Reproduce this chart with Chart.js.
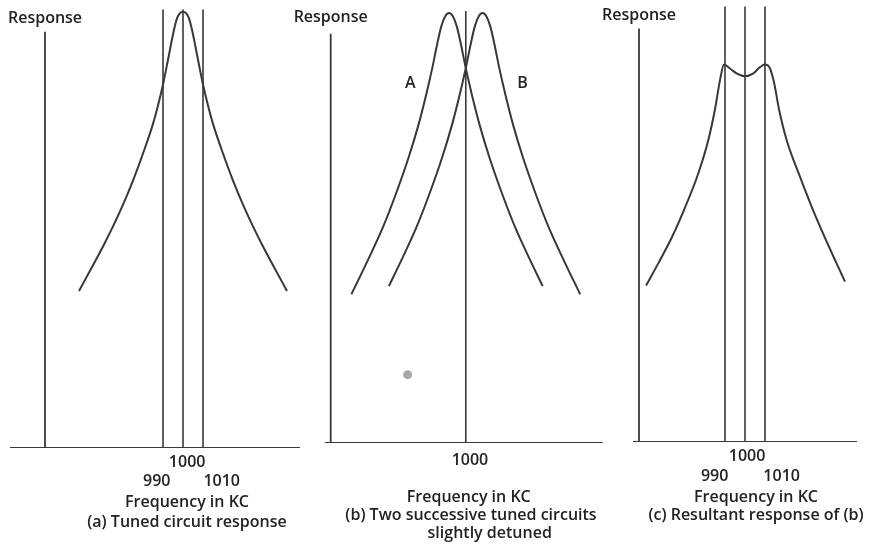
<!DOCTYPE html>
<html lang="en">
<head>
<meta charset="UTF-8">
<title>Tuned circuit response</title>
<script src="https://cdn.jsdelivr.net/npm/chart.js"></script>
<style>
  body { margin: 0; background: #fff; }
  #wrap { position: relative; width: 881px; height: 547px; overflow: hidden; }
  .panel { position: absolute; top: 0; }
</style>
</head>
<body>
<div id="wrap">
  <canvas id="chartA" class="panel" width="374" height="547" style="left:0px"></canvas>
  <canvas id="chartB" class="panel" width="342" height="547" style="left:290px"></canvas>
  <canvas id="chartC" class="panel" width="281" height="547" style="left:600px"></canvas>
</div>
<script>
// (a) single tuned circuit, frequency in kc / relative response
const freqA = [948, 955, 960, 965, 970, 975, 980, 985, 987.5, 990, 992.5, 995, 997, 1000,
               1003, 1005, 1007.5, 1010, 1012.5, 1015, 1020, 1025, 1030, 1035, 1040, 1045, 1052];
const respA = [36, 41.9, 46.2, 50.8, 55.8, 61.3, 67.5, 74.3, 78.5, 83.3, 89, 94.8, 98.5, 100,
               98.5, 94.8, 89, 83.3, 78.5, 74.3, 67.5, 61.3, 55.8, 50.8, 46.2, 41.9, 36];

// (b) curve A (tuned low) and curve B (tuned high)
const freqB1 = [942, 950, 958, 965, 971, 976, 980, 983, 985.5, 987.5, 989.5, 991.5,
                993.5, 995.5, 997.5, 1000, 1003, 1007, 1012, 1018, 1025, 1033, 1039];
const respB1 = [34.6, 42.2, 50.2, 58.5, 66.4, 74.0, 81.2, 87.2, 92.8, 96.8, 99.2, 100,
                99.2, 96.8, 92.8, 87.2, 81.2, 74.0, 66.4, 58.5, 50.2, 42.2, 36.5];
const freqB2 = [961, 967, 975, 982, 988, 993, 997, 1000, 1002.5, 1004.5, 1006.5, 1008.5,
                1010.5, 1012.5, 1014.5, 1017, 1020, 1024, 1029, 1035, 1042, 1050, 1058];
const respB2 = [36.5, 42.2, 50.2, 58.5, 66.4, 74.0, 81.2, 87.2, 92.8, 96.8, 99.2, 100,
                99.2, 96.8, 92.8, 87.2, 81.2, 74.0, 66.4, 58.5, 50.2, 42.2, 34.6];

// (c) resultant response
const freqC = [950.5, 956.5, 963.5, 970, 976.5, 981.5, 985, 987.5, 989.5, 992.5, 996, 1000,
               1004, 1007.5, 1010, 1012.5, 1014.5, 1017, 1021, 1027, 1033.5, 1040, 1045.5, 1050];
const respC = [36.1, 41.1, 47.3, 54.1, 61.8, 69.4, 76.8, 83.5, 87.1, 86.2, 85, 84.4,
               85, 86.5, 87.1, 86.2, 83, 76.8, 69.4, 61.8, 54.1, 47.1, 41.5, 37];

// marker lines and tick labels
const marksA = [990, 1000, 1010];
const marksB = [1000];
const marksC = [990, 1000, 1010];
const tickLabelsA = ['990', '1000', '1010'];
const tickLabelsB = ['1000'];
const tickLabelsC = ['990', '1000', '1010'];

const ink = '#383838';
const textColor = '#222';
const family = '"Open Sans", "DejaVu Sans", sans-serif';
const weight = '600';

// shift a label sideways by padding it with spaces
const mctx = document.createElement('canvas').getContext('2d');
function shiftText(text, px) {
  mctx.font = weight + ' 16px ' + family;
  const sp = mctx.measureText(' ').width;
  const pad = ' '.repeat(Math.round(Math.abs(px) * 2 / sp));
  return px < 0 ? text + pad : pad + text;
}

const pts = (xs, ys) => xs.map((x, i) => ({ x: x, y: ys[i] }));

function straight(data, w) {
  return { data: data, borderColor: ink, borderWidth: w, pointRadius: 0, tension: 0, fill: false };
}

function curve(data) {
  return { data: data, borderColor: ink, borderWidth: 2, pointRadius: 0,
           cubicInterpolationMode: 'monotone', fill: false };
}

function noteLayer(items) {
  return {
    id: 'notes',
    afterDatasetsDraw(chart) {
      const { ctx, scales } = chart;
      ctx.save();
      ctx.fillStyle = textColor;
      ctx.textAlign = 'center';
      ctx.textBaseline = 'middle';
      items.forEach(it => {
        ctx.font = weight + ' 16px ' + family;
        const px = scales.x.getPixelForValue(it.x);
        const py = it.py !== undefined ? it.py : scales.y.getPixelForValue(it.y);
        ctx.fillText(it.text, px, py);
      });
      ctx.restore();
    }
  };
}

function panel(id, p) {
  const datasets = [
    straight([{ x: p.base[0], y: 0 }, { x: p.base[1], y: 0 }], 1.8),
    straight([{ x: p.axisX, y: 0 }, { x: p.axisX, y: p.axisTop }], 1.8)
  ];
  p.marks.forEach(m => datasets.push(straight([{ x: m, y: 0 }, { x: m, y: 100.5 }], 1.6)));
  p.curves.forEach(c => datasets.push(curve(c)));
  if (p.extra) datasets.push(p.extra);

  new Chart(document.getElementById(id), {
    type: 'line',
    data: { datasets: datasets },
    options: {
      responsive: false,
      animation: false,
      events: [],
      layout: { padding: { top: p.padTop, bottom: p.padBottom, left: p.padLeft, right: 0 } },
      plugins: {
        legend: { display: false },
        tooltip: { enabled: false },
        title: {
          display: true,
          position: 'bottom',
          text: p.title,
          color: textColor,
          font: { family: family, size: 16, weight: weight, lineHeight: '18px' },
          padding: { top: p.titlePad, bottom: 0 }
        }
      },
      scales: {
        x: {
          type: 'linear',
          min: p.xMin,
          max: p.xMax,
          grid: { display: false, drawTicks: false },
          border: { display: false },
          afterBuildTicks: s => { s.ticks = p.marks.map(v => ({ value: v })); },
          ticks: {
            autoSkip: false,
            maxRotation: 0,
            minRotation: 0,
            padding: p.tickPad,
            color: textColor,
            font: { family: family, size: 16, weight: weight, lineHeight: p.tickLH },
            callback: v => p.tickText[p.marks.indexOf(v)]
          },
          title: {
            display: true,
            text: 'Frequency in KC',
            color: textColor,
            font: { family: family, size: 16, weight: weight, lineHeight: '18px' },
            padding: { top: p.xTitlePad, bottom: 0 }
          }
        },
        y: { type: 'linear', display: false, min: 0, max: 102 }
      }
    },
    plugins: [noteLayer(p.notes)]
  });
}

panel('chartA', {
  xMin: 908.5, xMax: 1095.5, base: [913.5, 1058.5], axisX: 931, axisTop: 95.4,
  marks: marksA,
  tickText: [['', shiftText(tickLabelsA[0], -6)], [shiftText(tickLabelsA[1], 5), ''], ['', shiftText(tickLabelsA[2], 19)]],
  curves: [pts(freqA, respA)],
  title: '(a) Tuned circuit response',
  padTop: 3, padBottom: 16, padLeft: 0, tickPad: 4.5, tickLH: '19px', xTitlePad: -2, titlePad: 2,
  notes: [{ text: 'Response', x: 931, py: 18 }]
});

panel('chartB', {
  xMin: 921, xMax: 1082, base: [928.5, 1069.5], axisX: 931.5, axisTop: 95.2,
  marks: marksB,
  tickText: [shiftText(tickLabelsB[0], 4)],
  curves: [pts(freqB1, respB1), pts(freqB2, respB2)],
  extra: { data: [{ x: 970.5, y: 15.9 }], showLine: false, pointRadius: 4.5,
           pointBackgroundColor: '#a8a8a8', pointBorderWidth: 0 },
  title: ['(b) Two successive tuned circuits', shiftText('slightly detuned', 18)],
  padTop: 0, padBottom: 5, padLeft: 20, tickPad: 7.5, tickLH: '19px', xTitlePad: 11, titlePad: 0,
  notes: [
    { text: 'Response', x: 931.5, py: 17 },
    { text: 'A', x: 971.8, y: 83.6 },
    { text: 'B', x: 1028.8, y: 83.6 }
  ]
});

panel('chartC', {
  xMin: 943, xMax: 1068, base: [944, 1056], axisX: 947, axisTop: 95.4,
  marks: marksC,
  tickText: [['', shiftText(tickLabelsC[0], -10)], [shiftText(tickLabelsC[1], 2), ''], ['', shiftText(tickLabelsC[2], 17)]],
  curves: [pts(freqC, respC)],
  title: '(c) Resultant response of (b)',
  padTop: 0, padBottom: 23, padLeft: 31, tickPad: 4, tickLH: '20px', xTitlePad: -2, titlePad: 0,
  notes: [{ text: 'Response', x: 947, py: 15 }]
});
</script>
</body>
</html>
